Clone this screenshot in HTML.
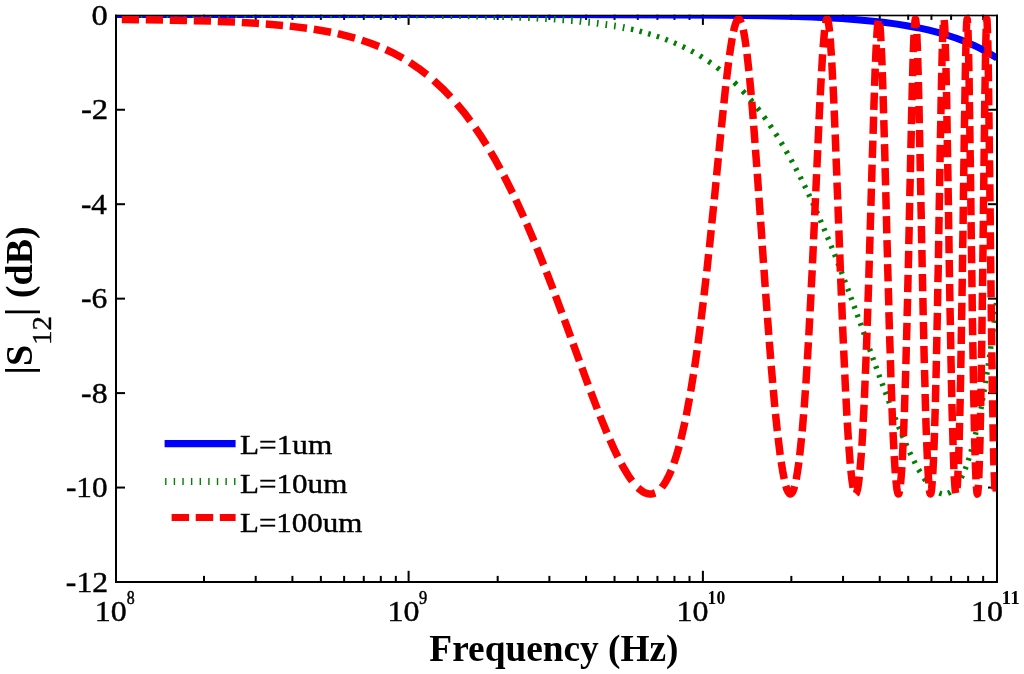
<!DOCTYPE html>
<html lang="en"><head><meta charset="utf-8"><title>|S12| (dB) vs Frequency (Hz)</title>
<style>
html,body{margin:0;padding:0;background:#fff;}
body{width:1024px;height:674px;overflow:hidden;}
svg{display:block;}
text{font-family:"Liberation Serif","Times New Roman",serif;fill:#000;}
.b{font-weight:bold;}
.n{stroke:#000;stroke-width:0.4;}
.s{stroke:#000;stroke-width:0.5;}
</style></head><body>
<svg width="1024" height="674" viewBox="0 0 1024 674">
<rect width="1024" height="674" fill="#fff"/>
<g fill="#000">
<rect x="115" y="14.7" width="2" height="568.3"/><rect x="996" y="14.7" width="2" height="568.3"/><rect x="115" y="14.7" width="883" height="1.6" shape-rendering="auto"/><rect x="115" y="581" width="883" height="2"/>
<rect x="203.00" y="575.9" width="2" height="6.1"/><rect x="203.00" y="14.7" width="2" height="5.2"/><rect x="254.71" y="575.9" width="2" height="6.1"/><rect x="254.71" y="14.7" width="2" height="5.2"/><rect x="291.40" y="575.9" width="2" height="6.1"/><rect x="291.40" y="14.7" width="2" height="5.2"/><rect x="319.86" y="575.9" width="2" height="6.1"/><rect x="319.86" y="14.7" width="2" height="5.2"/><rect x="343.12" y="575.9" width="2" height="6.1"/><rect x="343.12" y="14.7" width="2" height="5.2"/><rect x="362.78" y="575.9" width="2" height="6.1"/><rect x="362.78" y="14.7" width="2" height="5.2"/><rect x="379.81" y="575.9" width="2" height="6.1"/><rect x="379.81" y="14.7" width="2" height="5.2"/><rect x="394.83" y="575.9" width="2" height="6.1"/><rect x="394.83" y="14.7" width="2" height="5.2"/><rect x="407.60" y="570.8" width="2" height="11.2"/><rect x="407.60" y="14.7" width="2" height="10.2"/><rect x="496.67" y="575.9" width="2" height="6.1"/><rect x="496.67" y="14.7" width="2" height="5.2"/><rect x="548.38" y="575.9" width="2" height="6.1"/><rect x="548.38" y="14.7" width="2" height="5.2"/><rect x="585.07" y="575.9" width="2" height="6.1"/><rect x="585.07" y="14.7" width="2" height="5.2"/><rect x="613.53" y="575.9" width="2" height="6.1"/><rect x="613.53" y="14.7" width="2" height="5.2"/><rect x="636.78" y="575.9" width="2" height="6.1"/><rect x="636.78" y="14.7" width="2" height="5.2"/><rect x="656.44" y="575.9" width="2" height="6.1"/><rect x="656.44" y="14.7" width="2" height="5.2"/><rect x="673.47" y="575.9" width="2" height="6.1"/><rect x="673.47" y="14.7" width="2" height="5.2"/><rect x="688.50" y="575.9" width="2" height="6.1"/><rect x="688.50" y="14.7" width="2" height="5.2"/><rect x="701.90" y="570.8" width="2" height="11.2"/><rect x="701.90" y="14.7" width="2" height="10.2"/><rect x="790.34" y="575.9" width="2" height="6.1"/><rect x="790.34" y="14.7" width="2" height="5.2"/><rect x="842.05" y="575.9" width="2" height="6.1"/><rect x="842.05" y="14.7" width="2" height="5.2"/><rect x="878.74" y="575.9" width="2" height="6.1"/><rect x="878.74" y="14.7" width="2" height="5.2"/><rect x="907.20" y="575.9" width="2" height="6.1"/><rect x="907.20" y="14.7" width="2" height="5.2"/><rect x="930.45" y="575.9" width="2" height="6.1"/><rect x="930.45" y="14.7" width="2" height="5.2"/><rect x="950.11" y="575.9" width="2" height="6.1"/><rect x="950.11" y="14.7" width="2" height="5.2"/><rect x="967.14" y="575.9" width="2" height="6.1"/><rect x="967.14" y="14.7" width="2" height="5.2"/><rect x="982.16" y="575.9" width="2" height="6.1"/><rect x="982.16" y="14.7" width="2" height="5.2"/>
<rect x="116" y="108.75" width="9.0" height="2"/><rect x="988.0" y="108.75" width="9.0" height="2"/><rect x="116" y="203.20" width="9.0" height="2"/><rect x="988.0" y="203.20" width="9.0" height="2"/><rect x="116" y="297.65" width="9.0" height="2"/><rect x="988.0" y="297.65" width="9.0" height="2"/><rect x="116" y="392.10" width="9.0" height="2"/><rect x="988.0" y="392.10" width="9.0" height="2"/><rect x="116" y="486.55" width="9.0" height="2"/><rect x="988.0" y="486.55" width="9.0" height="2"/>
</g>
<defs><clipPath id="c"><rect x="117" y="16.0" width="879.2" height="565.0"/></clipPath></defs>
<g clip-path="url(#c)" fill="none" stroke-linejoin="round">
<path d="M116 14.6L533.9 14.6L614.9 14.7L672 14.9L723.2 15.2L763.6 15.8L797.3 16.6L812.1 17.1L825.9 17.8L841.9 18.6L856.7 19.7L870.4 20.9L883.3 22.3L895.4 23.9L906.8 25.7L917.7 27.7L928 29.9L937.8 32.4L947.3 35.2L956.4 38.2L965.1 41.6L973.5 45.2L981.6 49.1L989.4 53.4L997 58" stroke="#0000ff" stroke-width="7"/>
<path d="M116 14.6L116.6 14.6M123.6 14.6L125.2 14.6M132.2 14.6L133.8 14.6M140.8 14.6L142.4 14.6M149.4 14.6L151 14.6M158 14.6L159.6 14.6M166.6 14.6L168.2 14.6M175.2 14.6L176.8 14.6M183.8 14.6L185.4 14.6M192.5 14.6L194.1 14.6M201.1 14.6L202.7 14.6M209.7 14.6L211.3 14.6M218.3 14.6L219.9 14.6M226.9 14.6L228.5 14.6M235.5 14.6L237.1 14.6M244.1 14.6L245.7 14.6M252.7 14.6L254.3 14.6M261.3 14.6L262.9 14.6M269.9 14.7L271.5 14.7M278.5 14.7L280.1 14.7M287.1 14.7L288.7 14.7M295.7 14.7L297.3 14.7M304.3 14.7L305.9 14.7M312.9 14.7L314.5 14.7M321.5 14.7L323.1 14.7M330.1 14.7L331.8 14.7M338.8 14.8L340.4 14.8M347.4 14.8L349 14.8M356 14.8L357.6 14.8M364.6 14.8L366.2 14.8M373.2 14.9L374.8 14.9M381.8 14.9L383.4 14.9M390.4 14.9L392 15M399 15L400.6 15M407.6 15L409.2 15.1M416.2 15.1L417.8 15.1M424.8 15.2L426.4 15.2M433.4 15.3L435 15.3M442 15.4L443.6 15.4M450.6 15.5L452.2 15.5M459.2 15.6L460.8 15.6M467.8 15.8L469.4 15.8M476.5 15.9L478.1 16M485.1 16.1L486.7 16.1M493.7 16.3L495.3 16.4M502.3 16.6L503.9 16.6M510.9 16.9L512.5 16.9M519.5 17.2L521.1 17.3M528.1 17.6L529.7 17.6M536.7 18L538.3 18.1M545.3 18.5L546.9 18.6M553.9 19L555.5 19.1M562.5 19.7L564.1 19.8M571.1 20.4L572.7 20.5M579.7 21.2L581.3 21.4M588.3 22.2L589.9 22.3M596.9 23.2L598.5 23.4M605.5 24.5L607.1 24.7M614.1 25.9L615.7 26.1M622.8 27.5L624.4 27.8" stroke="#008000" stroke-width="7"/>
<path d="M630.9 29.2L633.4 29.7M639.5 31.2L642 31.9M648.1 33.6L650.6 34.3M656.7 36.2L659.2 37M665.3 39.2L667.8 40.2M673.9 42.6L676.4 43.7M682.5 46.5L685 47.7M691.2 50.8L693.7 52.2M699.8 55.7L702.3 57.3M708.4 61.3L710.9 63M717 67.5L719.5 69.5M725.6 74.5L728.1 76.7M734.2 82.3L736.7 84.7M742.6 90.8L744.9 93.3M750.3 99.4L752.5 101.9M757.4 108L759.4 110.5M763.9 116.6L765.8 119.1M770 125.2L771.7 127.7M775.7 133.8L777.3 136.3M781.1 142.5L782.6 145M786.2 151.1L787.6 153.6M791.1 159.7L792.4 162.2M795.7 168.3L797 170.8M800.2 176.9L801.4 179.4M804.5 185.5L805.7 188M808.6 194.1L809.8 196.6M812.6 202.7L813.7 205.2M816.5 211.3L817.6 213.8M820.3 219.9L821.3 222.4M823.9 228.5L825 231M827.5 237.1L828.6 239.6M831.1 245.7L832.1 248.2M834.5 254.3L835.5 256.8M837.9 262.9L838.9 265.4M841.2 271.5L842.2 274M844.5 280.1L845.4 282.6M847.7 288.8L848.7 291.3M850.9 297.4L851.8 299.9M854.1 306L855 308.5M857.2 314.6L858.1 317.1M860.3 323.2L861.2 325.7M863.4 331.8L864.3 334.3M866.5 340.4L867.4 342.9M869.6 349L870.5 351.5M872.7 357.6L873.6 360.1M875.8 366.2L876.7 368.7M878.9 374.8L879.8 377.3M882.1 383.4L883 385.9M885.2 392L886.2 394.5M888.5 400.6L889.4 403.1M891.7 409.2L892.7 411.7M895.1 417.8L896.1 420.3M898.5 426.5L899.6 429M902.1 435.1L903.2 437.6M905.8 443.7L906.9 446.2M909.7 452.3L910.9 454.8M914 460.9L915.2 463.4M918.6 469.5L920.1 472M923.9 478.1L925.7 480.6M930.7 486.7L933.2 489.1M939.3 493L940.6 493.5L941.8 493.8M947.9 493.2L949.2 492.7L950.4 491.9M956.1 486.4L957.9 483.9M961.3 477.8L962.6 475.3M965.2 469.2L966.1 466.7M968.3 460.5L969.1 458M970.9 451.9L971.6 449.4M973.3 443.3L973.9 440.8M975.4 434.7L976 432.2M977.4 426.1L977.9 423.6M979.2 417.5L979.7 415M980.9 408.9L981.4 406.4M982.5 400.3L982.9 397.8M984 391.7L984.4 389.2M985.4 383.1L985.8 380.6M986.8 374.5L987.2 372M988.1 365.9L988.5 363.4M989.4 357.3L989.7 354.8M990.6 348.7L990.9 346.2M991.8 340.1L992.1 337.6M992.9 331.5L993.2 329M994 322.9L994.3 320.4M995.1 314.2L995.4 311.7M996.1 305.6L996.4 303.1" stroke="#008000" stroke-width="5.4"/>
<path d="M121.8 19.6L139 19.8M145.8 19.8L163 20.1M169.8 20.2L187 20.5M193.8 20.7L211 21.1M217.8 21.4L235 22.1M241.8 22.4L259 23.4M265.8 23.9L283 25.4M289.8 26.1L307 28.2M313.8 29.2L322.6 30.7L331 32.3M337.8 33.7L346.6 35.9L355 38.2M361.8 40.2L370.6 43.2L379 46.5M385.8 49.5L394.6 53.7L403 58.3M409.8 62.4L418.5 68.3L427 74.7M433.8 80.4L442.4 88.4L450.7 97M456.8 103.8L463.7 112.1L470.4 121M475.3 127.8L480.9 136.2L486.5 145M490.6 151.8L495.5 160.2L500.3 169M503.9 175.8L512.6 193M515.8 199.8L523.7 217M526.7 223.8L534 241M536.8 247.8L543.7 265M546.4 271.8L553 289M555.5 295.8L561.9 313M564.4 319.8L570.7 337M573.1 343.8L579.4 361M581.9 367.8L588.2 385M590.8 391.8L597.3 409M600 415.8L607 433M609.9 439.8L614 448.9L617.9 457M621.4 463.8L624.2 468.8L626.9 473.3L629.5 477.4L632.1 481M638 487.8L640.3 489.8L642.5 491.4L644.7 492.7L646.9 493.5L649 493.9L651.1 494L653.1 493.6L655.2 492.9M661.8 487.4L664.2 484.1L666.6 480.1L669 475.5L671.3 470.2M673.9 463.4L676.5 455.3L679.2 446.2M680.9 439.4L684.9 422.2M686.3 415.4L689.5 398.2M690.7 391.4L693.5 374.2M694.6 367.4L697.1 350.2M698 343.4L700.3 326.2M701.1 319.4L703.2 302.2M704 295.4L706 278.2M706.8 271.4L708.6 254.2M709.4 247.4L711.2 230.2M711.8 223.4L713.6 206.2M714.3 199.4L716 182.2M716.6 175.4L718.3 158.2M719 151.4L720.7 134.2M721.4 127.4L723.2 110.2M723.9 103.4L725.7 86.2M726.5 79.4L728.6 62.2M729.5 55.4L730.9 46L732.2 38.2M733.5 31.4L734.6 27L735.6 23.6L736.6 21.2L737.6 19.7L738.1 19.3L738.5 19.1L739 19.2L739.5 19.5L740.5 20.8L741.4 23M743.3 29.8L744.7 37.3L746.1 47M747 53.8L748.9 71M749.6 77.8L751.2 95M751.8 101.8L753.2 119M753.7 125.8L755 143M755.5 149.8L756.8 167M757.3 173.8L758.5 191M759 197.8L760.2 215M760.7 221.8L761.9 239M762.3 245.8L763.5 263M764 269.8L765.2 287M765.7 293.8L767 311M767.5 317.8L768.8 335M769.3 341.8L770.7 359M771.2 365.8L772.7 383M773.3 389.8L774.8 407M775.5 413.8L777.3 431M778.1 437.8L780.2 455M781.2 461.8L782.7 471.2L784.2 479M785.8 485.8L786.9 489.4L788.1 491.9L789.2 493.4L789.8 493.8L790.3 494L790.9 493.9L791.4 493.6L792.5 492.1L793.6 489.7L794.6 486.2M796.2 479.4L797.5 471.7L798.9 462.2M799.7 455.4L801.5 438.2M802.2 431.4L803.6 414.2M804.2 407.4L805.4 390.2M805.9 383.4L807 366.2M807.4 359.4L808.4 342.2M808.8 335.4L809.7 318.2M810.1 311.4L811 294.2M811.3 287.4L812.2 270.2M812.5 263.4L813.3 246.2M813.6 239.4L814.4 222.2M814.7 215.4L815.5 198.2M815.8 191.4L816.6 174.2M816.9 167.4L817.7 150.2M818 143.4L818.8 126.2M819.1 119.4L819.9 102.2M820.3 95.4L821.2 78.2M821.6 71.4L822.6 54.2M823.1 47.4L824.6 30.2M825.6 23.4L826.1 21L826.6 19.5L826.8 19.2L827.1 19.1L827.3 19.2L827.6 19.6L828.1 21.2L828.6 23.7L829.6 31.7M830.2 38.5L831.4 55.7M831.8 62.5L832.7 79.7M833.1 86.5L833.9 103.7M834.2 110.5L834.9 127.7M835.2 134.5L835.9 151.7M836.1 158.5L836.8 175.7M837 182.5L837.7 199.7M838 206.5L838.6 223.7M838.9 230.5L839.5 247.7M839.8 254.5L840.4 271.7M840.7 278.5L841.4 295.7M841.7 302.5L842.4 319.7M842.6 326.5L843.4 343.7M843.7 350.5L844.5 367.7M844.8 374.5L845.6 391.7M846 398.5L846.9 415.7M847.3 422.5L848.4 439.7M848.9 446.5L850.2 463.7M850.9 470.5L852 480.5L853.1 487.7M855.8 493.9L856.3 493.4L856.7 492.4L857.6 489L858.5 483.8L859.3 476.7M860 469.9L861.4 452.7M861.9 445.9L862.9 428.7M863.2 421.9L864.1 404.7M864.4 397.9L865.1 380.7M865.4 373.9L866.1 356.7M866.4 349.9L867 332.7M867.2 325.9L867.8 308.7M868 301.9L868.6 284.7M868.8 277.9L869.3 260.7M869.5 253.9L870 236.7M870.2 229.9L870.7 212.7M870.9 205.9L871.4 188.7M871.6 181.9L872.1 164.7M872.3 157.9L872.9 140.7M873.1 133.9L873.6 116.7M873.8 109.9L874.4 92.7M874.6 85.9L875.2 68.7M875.5 61.9L876.3 44.7M876.7 37.9L877.4 26.9L878.2 20.7M879.8 24.1L880.4 31.2L881 41.3M881.3 48.1L882.1 65.3M882.3 72.1L882.9 89.3M883.1 96.1L883.6 113.3M883.8 120.1L884.3 137.3M884.5 144.1L885 161.3M885.1 168.1L885.6 185.3M885.8 192.1L886.2 209.3M886.4 216.1L886.8 233.3M887 240.1L887.5 257.3M887.6 264.1L888.1 281.3M888.3 288.1L888.8 305.3M888.9 312.1L889.4 329.3M889.6 336.1L890.2 353.3M890.4 360.1L890.9 377.3M891.2 384.1L891.8 401.3M892 408.1L892.7 425.3M893 432.1L893.9 449.3M894.2 456.1L895.3 473.3M895.9 480.1L896.8 488.4L897.3 491.2L897.8 493L898.2 493.9L898.5 494L898.7 493.8L899.1 492.8L899.6 490.9M900.5 484.1L901.2 476.5L901.9 466.9M902.3 460.1L903.1 442.9M903.4 436.1L904.1 418.9M904.4 412.1L904.9 394.9M905.2 388.1L905.7 370.9M905.9 364.1L906.3 346.9M906.5 340.1L907 322.9M907.1 316.1L907.6 298.9M907.7 292.1L908.1 274.9M908.3 268.1L908.7 250.9M908.8 244.1L909.2 226.9M909.3 220.1L909.7 202.9M909.8 196.1L910.2 178.9M910.4 172.1L910.7 154.9M910.9 148.1L911.3 130.9M911.4 124.1L911.8 106.9M912 100.1L912.4 82.9M912.6 76.1L913.1 58.9M913.3 52.1L914 34.9M914.4 28.1L914.9 21.5L915.2 19.8L915.4 19.1L915.7 19.5L915.9 21L916.5 27.2M916.8 34L917.5 51.2M917.7 58L918.2 75.2M918.4 82L918.8 99.2M919 106L919.3 123.2M919.5 130L919.8 147.2M920 154L920.3 171.2M920.5 178L920.8 195.2M920.9 202L921.3 219.2M921.4 226L921.7 243.2M921.9 250L922.2 267.2M922.4 274L922.7 291.2M922.9 298L923.2 315.2M923.4 322L923.8 339.2M923.9 346L924.3 363.2M924.5 370L925 387.2M925.1 394L925.6 411.2M925.8 418L926.4 435.2M926.7 442L927.4 459.2M927.7 466L928.8 483.2M929.4 490L929.8 492.3L930.2 493.7L930.4 494L930.5 494L930.9 493.3L931.3 491.7L931.6 489.1L932.3 480.9M932.8 474.1L933.6 456.9M933.9 450.1L934.5 432.9M934.7 426.1L935.2 408.9M935.4 402.1L935.8 384.9M936 378.1L936.4 360.9M936.5 354.1L936.9 336.9M937 330.1L937.4 312.9M937.5 306.1L937.8 288.9M937.9 282.1L938.3 264.9M938.4 258.1L938.7 240.9M938.8 234.1L939.1 216.9M939.2 210.1L939.5 192.9M939.6 186.1L939.9 168.9M940 162.1L940.3 144.9M940.4 138.1L940.8 120.9M940.9 114.1L941.2 96.9M941.4 90.1L941.7 72.9M941.9 66.1L942.3 48.9M942.5 42.1L943.2 24.9M944.2 20L944.7 25.8L945.1 37.2M945.3 44L945.8 61.2M946 68L946.3 85.2M946.5 92L946.8 109.2M946.9 116L947.2 133.2M947.3 140L947.6 157.2M947.7 164L948 181.2M948.1 188L948.4 205.2M948.5 212L948.7 229.2M948.9 236L949.1 253.2M949.2 260L949.5 277.2M949.6 284L949.9 301.2M950 308L950.4 325.2M950.5 332L950.8 349.2M950.9 356L951.3 373.2M951.4 380L951.8 397.2M951.9 404L952.4 421.2M952.6 428L953.1 445.2M953.3 452L953.9 469.2M954.2 476L955 487.5L955.3 491L955.7 493.2M957.1 488L957.6 480.9L958.1 470.8M958.4 464L959 446.8M959.2 440L959.6 422.8M959.8 416L960.2 398.8M960.3 392L960.7 374.8M960.8 368L961.1 350.8M961.2 344L961.5 326.8M961.6 320L961.9 302.8M962 296L962.3 278.8M962.4 272L962.6 254.8M962.7 248L963 230.8M963.1 224L963.3 206.8M963.4 200L963.6 182.8M963.7 176L964 158.8M964.1 152L964.3 134.8M964.4 128L964.7 110.8M964.8 104L965.1 86.8M965.2 80L965.5 62.8M965.7 56L966.1 38.8M966.3 32L966.6 23.9L967 19.7L967.2 19.1L967.3 19.5L967.6 23.3M968 30.1L968.4 47.3M968.6 54.1L968.9 71.3M969.1 78.1L969.3 95.3M969.4 102.1L969.7 119.3M969.8 126.1L970 143.3M970.1 150.1L970.4 167.3M970.5 174.1L970.7 191.3M970.8 198.1L971 215.3M971.1 222.1L971.3 239.3M971.4 246.1L971.7 263.3M971.8 270.1L972 287.3M972.1 294.1L972.3 311.3M972.4 318.1L972.7 335.3M972.8 342.1L973.1 359.3M973.2 366.1L973.5 383.3M973.6 390.1L974 407.3M974.1 414.1L974.5 431.3M974.6 438.1L975.1 455.3M975.3 462.1L976 479.3M976.4 486.1L976.9 492.2L977.2 493.6L977.4 494L977.7 493.3L977.9 491.5L978.5 484.8M978.8 478L979.4 460.8M979.6 454L980.1 436.8M980.2 430L980.6 412.8M980.7 406L981 388.8M981.1 382L981.4 364.8M981.5 358L981.8 340.8M981.9 334L982.1 316.8M982.2 310L982.5 292.8M982.5 286L982.8 268.8M982.8 262L983.1 244.8M983.1 238L983.4 220.8M983.4 214L983.6 196.8M983.7 190L983.9 172.8M984 166L984.2 148.8M984.3 142L984.5 124.8M984.6 118L984.8 100.8M984.9 94L985.2 76.8M985.3 70L985.6 52.8M985.7 46L986.2 28.8M986.5 22L986.8 19.2L986.8 19.1L986.9 19.2L987 20.1L987.6 33.4M987.8 40.2L988.1 57.4M988.2 64.2L988.5 81.4M988.6 88.2L988.8 105.4M988.9 112.2L989.1 129.4M989.2 136.2L989.4 153.4M989.5 160.2L989.7 177.4M989.8 184.2L990 201.4M990.1 208.2L990.3 225.4M990.3 232.2L990.5 249.4M990.6 256.2L990.8 273.4M990.9 280.2L991.1 297.4M991.2 304.2L991.4 321.4M991.5 328.2L991.7 345.4M991.8 352.2L992.1 369.4M992.2 376.2L992.4 393.4M992.6 400.2L992.9 417.4M993 424.2L993.3 441.4M993.5 448.2L993.9 465.4M994.2 472.2L994.9 489.4M996.1 491.8L996.5 485.3L997 474.6" stroke="#ff0000" stroke-width="7.5"/>
</g>
<text transform="translate(91.39 24.93) scale(1.1617 1.0300)" font-size="28" class="n">0</text>
<text transform="translate(80.93 119.38) scale(1.1687 1.0300)" font-size="28" class="n">-2</text>
<text transform="translate(80.99 213.83) scale(1.1086 1.0300)" font-size="28" class="n">-4</text>
<text transform="translate(80.97 308.28) scale(1.1279 1.0300)" font-size="28" class="n">-6</text>
<text transform="translate(81.06 402.73) scale(1.1365 1.0300)" font-size="28" class="n">-8</text>
<text transform="translate(65.88 497.18) scale(1.1163 1.0300)" font-size="28" class="n">-10</text>
<text transform="translate(65.87 591.63) scale(1.1324 1.0300)" font-size="28" class="n">-12</text>
<text transform="translate(94.75 620.50) scale(1.1405 1.0300)" font-size="28" class="n">10</text>
<text transform="translate(126.63 603.60) scale(0.9067 1.0300)" font-size="17.5" class="s">8</text>
<text transform="translate(387.55 620.50) scale(1.1405 1.0300)" font-size="28" class="n">10</text>
<text transform="translate(419.12 603.60) scale(0.9356 1.0300)" font-size="17.5" class="s">9</text>
<text transform="translate(676.55 620.50) scale(1.1405 1.0300)" font-size="28" class="n">10</text>
<text transform="translate(707.62 603.60) scale(1.0065 1.0300)" font-size="17.5" class="b">10</text>
<text transform="translate(971.05 620.50) scale(1.1405 1.0300)" font-size="28" class="n">10</text>
<text transform="translate(1001.59 603.60) scale(1.1018 1.0300)" font-size="17.5" class="b">11</text>
<text transform="translate(239.96 454.30) scale(1.1166 1.0000)" font-size="28" class="n">L=1um</text>
<text transform="translate(239.97 493.20) scale(1.1110 1.0000)" font-size="28" class="n">L=10um</text>
<text transform="translate(239.97 531.60) scale(1.1068 1.0000)" font-size="28" class="n">L=100um</text>
<text transform="translate(429.37 661.40) scale(1.0092 1.0000)" font-size="37" class="b">Frequency (Hz)</text>
<g fill="none">
<path d="M164.6 443.7H235.6" stroke="#0000ff" stroke-width="7.2"/>
<path d="M165.1 481.45H236" stroke="#008000" stroke-width="7.1" stroke-dasharray="1.4 7.22"/>
<path d="M171.6 517.5H235.6" stroke="#ff0000" stroke-width="7.2" stroke-dasharray="17.5 6.6"/>
</g>
<text transform="translate(32.00 374.50) rotate(-90) scale(1.0300 1.0000)" font-size="37" class="b">|S<tspan font-size="28" font-weight="normal" class="n" dy="19">12</tspan><tspan dy="-19">| (dB)</tspan></text>
</svg>
</body></html>
